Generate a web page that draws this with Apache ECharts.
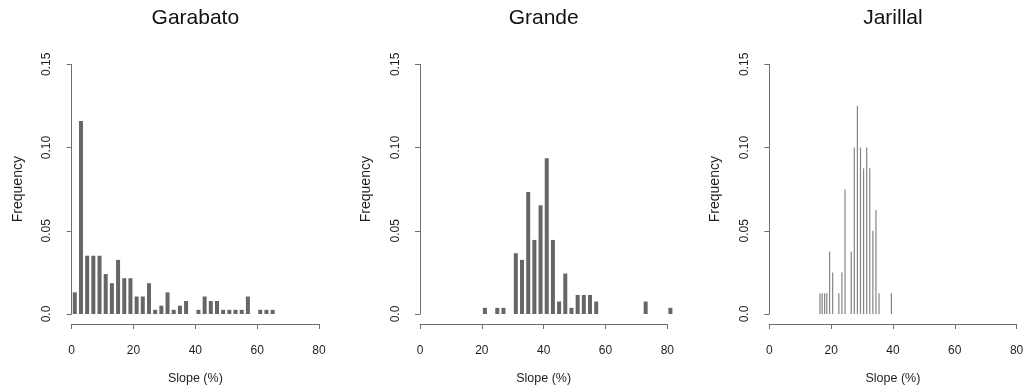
<!DOCTYPE html>
<html><head><meta charset="utf-8">
<script src="https://cdn.jsdelivr.net/npm/echarts@6/dist/echarts.min.js"></script>
<style>html,body{margin:0;padding:0;background:#fff}#c{width:1027px;height:390px}</style>
</head><body><div id="c"></div>
<script>
const panelTitles = ['Garabato', 'Grande', 'Jarillal'];
const xTicks = [0, 20, 40, 60, 80];
const yTickLabels = ['0.0', '0.05', '0.10', '0.15'];

const garabatoX = [1,3,5,7,9,11,13,15,17,19,21,23,25,27,29,31,33,35,37,41,43,45,47,49,51,53,55,57,61,63,65];
const garabatoY = [0.013,0.116,0.035,0.035,0.035,0.024,0.0185,0.0325,0.0215,0.0215,0.0105,0.0105,0.0185,0.0025,0.005,0.013,0.0025,0.005,0.0078,0.0025,0.0105,0.0078,0.0078,0.0025,0.0025,0.0025,0.0025,0.0105,0.0025,0.0025,0.0025];

const grandeX = [21,25,27,31,33,35,37,39,41,43,45,47,49,51,53,55,57,73,81];
const grandeY = [0.0037,0.0037,0.0037,0.0365,0.0325,0.0733,0.0445,0.0653,0.0936,0.0445,0.0075,0.0243,0.0037,0.0114,0.0114,0.0114,0.0075,0.0075,0.0037];

const jarillalX = [16.4,17.1,17.9,18.6,19.5,20.5,22.5,23.5,24.5,26.5,27.5,28.5,29.5,30.5,31.5,32.5,33.5,34.5,35.5,39.5];
const jarillalY = [0.0125,0.0125,0.0125,0.0125,0.0375,0.025,0.0125,0.025,0.075,0.0375,0.1,0.125,0.1,0.0875,0.1,0.0875,0.05,0.0625,0.0125,0.0125];

const seriesX = [garabatoX, grandeX, jarillalX];
const seriesY = [garabatoY, grandeY, jarillalY];

const FONT = 'Liberation Sans, Arial, Helvetica, sans-serif';
const gridLefts = [71.7, 420, 769.3];
const gridW = 247.3, gridTop = 64.3, gridH = 249.7;
const axisColor = '#6e6e6e', textColor = '#1e1e1e';

const chart = echarts.init(document.getElementById('c'), null, {renderer: 'canvas'});
const grids = [], xAxes = [], yAxes = [], series = [], graphics = [];
for (let i = 0; i < 3; i++) {
  grids.push({left: gridLefts[i], top: gridTop, width: gridW, height: gridH, containLabel: false});
  xAxes.push({
    gridIndex: i, type: 'value', min: xTicks[0], max: xTicks[xTicks.length-1], interval: 20, offset: 10,
    axisLine: {show: true, onZero: false, lineStyle: {color: axisColor, width: 1}},
    axisTick: {show: true, length: 5, lineStyle: {color: axisColor, width: 1}},
    axisLabel: {fontSize: 12, color: textColor, fontFamily: FONT, margin: 21},
    splitLine: {show: false},
    name: 'Slope (%)', nameLocation: 'middle', nameGap: 48,
    nameTextStyle: {fontSize: 12.5, color: textColor, fontFamily: FONT}
  });
  yAxes.push({
    gridIndex: i, type: 'value', min: 0, max: 0.15, interval: 0.05, offset: 9.7,
    axisLine: {show: true, lineStyle: {color: axisColor, width: 1}},
    axisTick: {show: true, length: 5, lineStyle: {color: axisColor, width: 1}},
    axisLabel: {fontSize: 12, color: textColor, fontFamily: FONT, rotate: 90, margin: 9,
      formatter: (v) => yTickLabels[Math.round(v / 0.05)]},
    splitLine: {show: false},
    name: 'Frequency', nameLocation: 'middle', nameGap: 37, nameRotate: 90,
    nameTextStyle: {fontSize: 14, color: textColor, fontFamily: FONT}
  });
  const data = seriesX[i].map((x, k) => [x, seriesY[i][k]]);
  series.push({
    type: 'bar', xAxisIndex: i, yAxisIndex: i, data: data,
    barWidth: i === 2 ? 1.2 : 4, clip: false, silent: true, animation: false,
    itemStyle: {color: i === 2 ? '#858585' : '#666666'}
  });
  graphics.push({
    type: 'text', x: gridLefts[i] + gridW / 2, y: 18,
    style: {text: panelTitles[i], fontSize: 21, fontFamily: FONT, fill: '#111', align: 'center', verticalAlign: 'middle'}
  });
}
chart.setOption({
  animation: false,
  grid: grids, xAxis: xAxes, yAxis: yAxes, series: series, graphic: graphics
});
</script>
</body></html>
